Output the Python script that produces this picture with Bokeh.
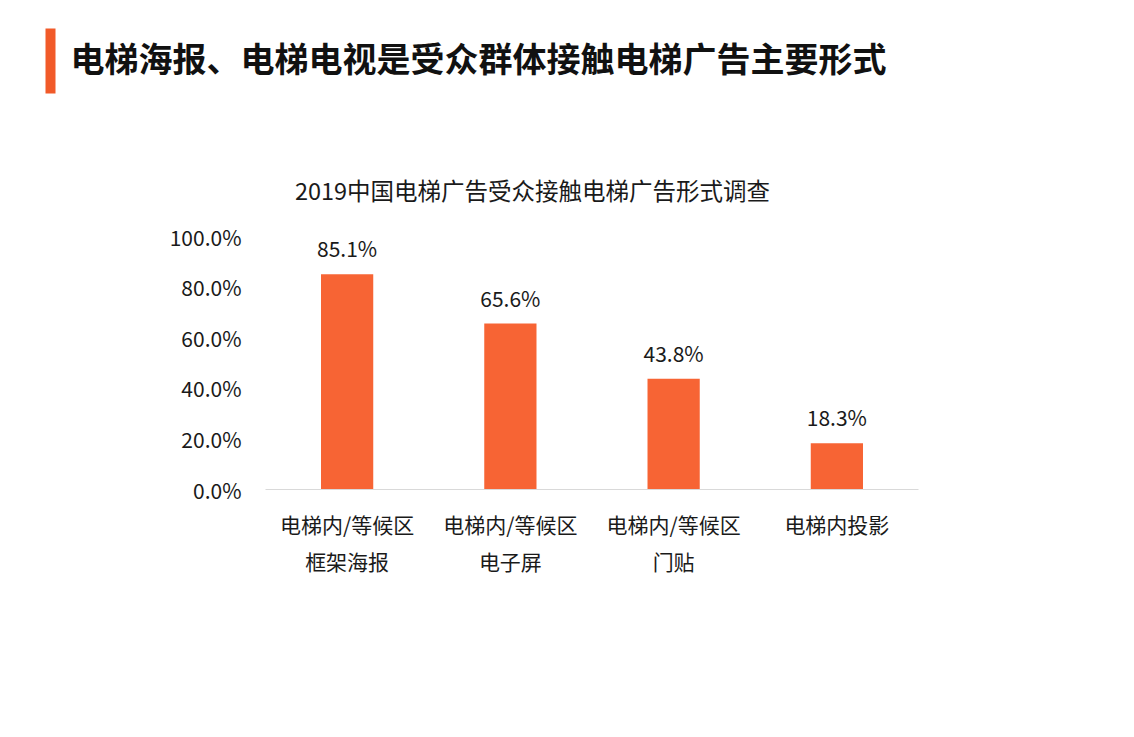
from bokeh.plotting import figure
from bokeh.layouts import column
from bokeh.models import Range1d, NumeralTickFormatter, ColumnDataSource, FixedTicker
from bokeh.core.properties import value
from bokeh.embed import file_html
from bokeh.resources import INLINE

# ---- data ----
categories = ["电梯内/等候区\n框架海报", "电梯内/等候区\n电子屏", "电梯内/等候区\n门贴", "电梯内投影"]
shares = [0.851, 0.656, 0.438, 0.183]
share_labels = ["85.1%", "65.6%", "43.8%", "18.3%"]
y_ticks = [0.0, 0.2, 0.4, 0.6, 0.8, 1.0]
main_title = "电梯海报、电梯电视是受众群体接触电梯广告主要形式"
sub_title = "2019中国电梯广告受众接触电梯广告形式调查"

FONT = "Noto Sans CJK SC"
BAR = "#F76434"
TXT = "#1a1a1a"
W, H = 1134, 737
HEAD = 210                      # header strip height
FL, FR, FT, FB = 265, 918, 236, 489  # chart frame pixel edges on the page

# ---- header (title bar + titles), pixel-like coordinates ----
h = figure(width=W, height=HEAD, x_range=Range1d(0, W), y_range=Range1d(HEAD, 0),
           output_backend="svg", toolbar_location=None, min_border=0, frame_align=False)
h.axis.visible = False
h.grid.visible = False
h.outline_line_color = None
h.quad(left=[45], right=[55], top=[28], bottom=[93], fill_color="#F15A29", line_color=None)
h.text(x=[70], y=[57], text=[main_title], text_font=value(FONT), text_font_size="34px",
       text_font_style="bold", text_baseline="middle", text_align="left", text_color="#111111")
h.text(x=[532], y=[189], text=[sub_title], text_font=value(FONT), text_font_size="23.5px",
       text_baseline="middle", text_align="center", text_color=TXT)

# ---- bar chart ----
p = figure(width=W, height=H - HEAD, x_range=categories, y_range=Range1d(0, 1),
           output_backend="svg", toolbar_location=None, frame_align=False,
           min_border_left=FL, min_border_right=W - FR,
           min_border_top=FT - HEAD, min_border_bottom=H - FB)
p.outline_line_color = None
p.xgrid.grid_line_color = None
p.ygrid.grid_line_color = None

src = ColumnDataSource(dict(cat=categories, v=shares, lab=share_labels))
p.vbar(x="cat", top="v", width=0.32, source=src, fill_color=BAR, line_color=None)
p.text(x="cat", y="v", text="lab", source=src, text_align="center", text_baseline="bottom",
       y_offset=-11, text_font=value(FONT), text_font_size="21px", text_color=TXT)

p.yaxis.ticker = FixedTicker(ticks=y_ticks)
p.yaxis.formatter = NumeralTickFormatter(format="0.0%")
p.yaxis.axis_line_color = None
p.yaxis.major_tick_line_color = None
p.yaxis.minor_tick_line_color = None
p.yaxis.major_label_standoff = 18
p.yaxis.major_label_text_font = FONT
p.yaxis.major_label_text_font_size = "21px"
p.yaxis.major_label_text_color = TXT

p.xaxis.axis_line_color = "#D9D9D9"
p.xaxis.axis_line_width = 1
p.xaxis.major_tick_line_color = None
p.xaxis.minor_tick_line_color = None
p.xaxis.major_label_standoff = 13
p.xaxis.major_label_text_font = FONT
p.xaxis.major_label_text_font_size = "21px"
p.xaxis.major_label_text_color = TXT
p.xaxis.major_label_text_line_height = 1.25

layout = column(h, p, spacing=0)
open("out.html", "w").write(file_html(layout, INLINE))
